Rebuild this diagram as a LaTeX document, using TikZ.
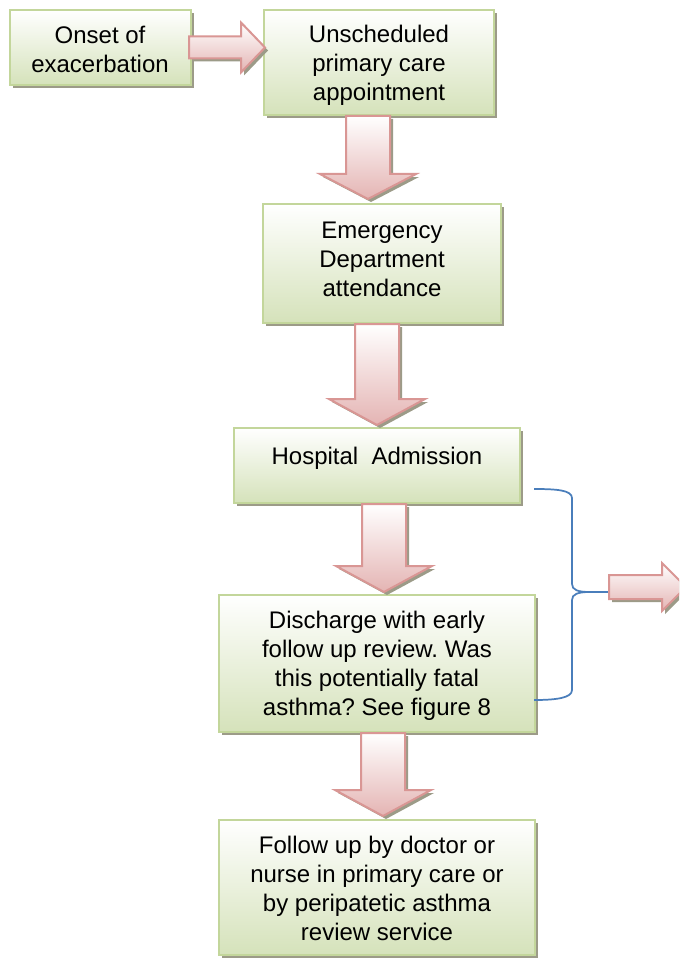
\documentclass[tikz,border=0pt]{standalone}
\usepackage{fontspec}
\setmainfont{Liberation Sans}
\usetikzlibrary{calc,shadows}
\frenchspacing

\definecolor{boxline}{HTML}{C3D69B}
\definecolor{boxfill}{HTML}{D5E2BA}
\definecolor{arrline}{HTML}{D99694}
\definecolor{arrfill}{HTML}{E4B4B3}
\definecolor{shadowc}{HTML}{9C9B88}
\definecolor{bracec}{HTML}{4A7EBB}

\tikzset{
  softshadow/.style={general shadow={fill=shadowc, shadow xshift=2.25pt, shadow yshift=-2.25pt}},
  stepbox/.style={draw=boxline, line width=1.5pt, top color=white, middle color=boxfill!35,
    bottom color=boxfill, softshadow, inner sep=0pt},
  steptext/.style={align=center, inner sep=0pt, font=\fontsize{18}{21.75}\selectfont},
  blockarrow/.style={draw=arrline, line width=1.5pt, line join=miter, top color=white,
    bottom color=arrfill, softshadow},
  bracepath/.style={draw=bracec, line width=1.3pt},
}

% downward block arrow between two named boxes:
% #1 upper box, #2 lower box, #3 x centre, #4 gap above lower box, #5 head length
\newcommand\downblock[5]{%
  \path[blockarrow] let \p1=(#1.south), \p2=(#2.north) in
    ({(#3-22)*0.75pt},\y1) -- ({(#3+22)*0.75pt},\y1)
    -- ({(#3+22)*0.75pt},{\y2+(#4+#5)*0.75pt})
    -- ({(#3+48)*0.75pt},{\y2+(#4+#5)*0.75pt})
    -- ({#3*0.75pt},{\y2+#4*0.75pt})
    -- ({(#3-48)*0.75pt},{\y2+(#4+#5)*0.75pt})
    -- ({(#3-22)*0.75pt},{\y2+(#4+#5)*0.75pt}) -- cycle;}

\begin{document}
\begin{tikzpicture}[x=0.75pt,y=-0.75pt]
\useasboundingbox (0,0) rectangle (679,963);
\clip (0,0) rectangle (679,963);
\fill[white] (0,0) rectangle (679,963);

% boxes
\node[stepbox, minimum width=135.75pt, minimum height=56.25pt] (b1) at (100.5,47.5) {};
\node[stepbox, minimum width=172.5pt, minimum height=78.75pt] (b2) at (379,62.5) {};
\node[stepbox, minimum width=178.5pt, minimum height=89.25pt] (b3) at (382,263.5) {};
\node[stepbox, minimum width=214.5pt, minimum height=56.25pt] (b4) at (377,465.5) {};
\node[stepbox, minimum width=237pt, minimum height=102.75pt] (b5) at (377,663.5) {};
\node[stepbox, minimum width=237pt, minimum height=101.25pt] (b6) at (377,887.5) {};

% texts
\node[steptext] (t1) at (100,49.5) {Onset of\\exacerbation};
\node[steptext] (t2) at (379,65) {Unscheduled\\primary care\\appointment};
\node[steptext] (t3) at (382,259) {Emergency\\Department\\attendance};
\node[steptext] (t4) at (377,458) {Hospital\ \ Admission};
\node[steptext] (t5) at (377,666) {Discharge with early\\follow up review. Was\\this potentially fatal\\asthma? See figure 8};
\node[steptext] (t6) at (377,888) {Follow up by doctor or\\nurse in primary care or\\by peripatetic asthma\\review service};

% horizontal arrow between the first two boxes
\path[blockarrow] let \p1=(b1.east), \p2=(b2.west) in
  ({\x1-2.25pt},-27.375pt) -- ({\x2-16.5pt},-27.375pt) -- ({\x2-16.5pt},-16.875pt)
  -- ({\x2+1.5pt},-35.625pt) -- ({\x2-16.5pt},-54.375pt) -- ({\x2-16.5pt},-43.875pt)
  -- ({\x1-2.25pt},-43.875pt) -- cycle;

% downward arrows
\downblock{b2}{b3}{368}{4}{25}
\downblock{b3}{b4}{377}{2}{26}
\downblock{b4}{b5}{384}{2}{26}
\downblock{b5}{b6}{383}{3}{26}

% brace gathering the admission and discharge steps
\coordinate (brtop) at (534,489);
\coordinate (brbot) at (534,700);
\coordinate (brtip) at (608,592);
\draw[bracepath] (brtop) .. controls (556,489) and (572,490) .. (572,498)
  -- (572,584) .. controls (572,590) and (578,592) .. (590,592) -- (brtip);
\draw[bracepath] (590,592) .. controls (578,592) and (572,594) .. (572,600)
  -- (572,690) .. controls (572,698) and (556,700) .. (brbot);

% outgoing arrow
\path[blockarrow] (brtip) ++(1,-17) coordinate (ra) -- (662,575) -- (662,563) -- (686,587)
  -- (662,611) -- (662,599) -- (609,599) -- cycle;
\end{tikzpicture}
\end{document}
